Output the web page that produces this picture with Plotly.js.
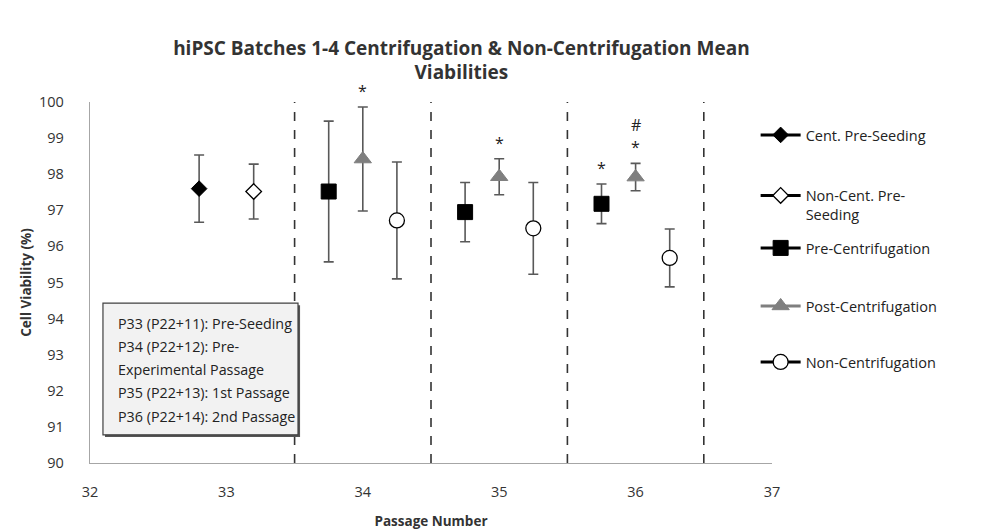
<!DOCTYPE html>
<html>
<head>
<meta charset="utf-8">
<script src="https://cdn.plot.ly/plotly-3.0.1.min.js"></script>
<style>html,body{margin:0;padding:0;background:#fff;}#chart{width:988px;height:532px;}</style>
</head>
<body>
<div id="chart"></div>
<script>
// ---- data ----
var seriesNames = ["Cent. Pre-Seeding", "Non-Cent. Pre-<br>Seeding", "Pre-Centrifugation", "Post-Centrifugation", "Non-Centrifugation"];
var centPreSeedX = [32.8];
var centPreSeedY = [97.6];
var centPreSeedErr = [0.93];
var nonCentPreSeedX = [33.2];
var nonCentPreSeedY = [97.52];
var nonCentPreSeedErr = [0.76];
var preCentX = [33.75, 34.75, 35.75];
var preCentY = [97.52, 96.95, 97.18];
var preCentErr = [1.95, 0.82, 0.55];
var postCentX = [34, 35, 36];
var postCentY = [98.42, 97.93, 97.92];
var postCentErr = [1.44, 0.5, 0.38];
var nonCentX = [34.25, 35.25, 36.25];
var nonCentY = [96.72, 96.5, 95.68];
var nonCentErr = [1.62, 1.27, 0.8];
var xTicks = [32, 33, 34, 35, 36, 37];
var yTicks = [90, 91, 92, 93, 94, 95, 96, 97, 98, 99, 100];
var dividerX = [33.5, 34.5, 35.5, 36.5];
var boxLines = ["P33 (P22+11): Pre-Seeding", "P34 (P22+12): Pre-", "Experimental Passage", "P35 (P22+13): 1st Passage", "P36 (P22+14): 2nd Passage"];
// significance marks placed just above the top of the relevant error bar
var sigX = [34, 35, 35.75, 36, 36];
var sigTopY = [98.42 + 1.44, 97.93 + 0.5, 97.18 + 0.55, 97.92 + 0.38, 97.92 + 0.38];
var sigText = ["*", "*", "*", "*", "#"];
var sigLevel = [0, 0, 0, 0, 1];

// interleave nulls so lines appear in legend but never connect points
function gap(a) { var r = []; a.forEach(function (v, i) { if (i) r.push(null); r.push(v); }); return r; }

var ebColor = '#595959';
var legendIds = ['legend', 'legend2', 'legend3', 'legend4', 'legend5'];
function mk(i, x, y, e, marker, lineColor) {
  return {
    type: 'scatter', mode: 'lines+markers', name: seriesNames[i], legend: legendIds[i],
    x: gap(x), y: gap(y), connectgaps: false,
    line: { color: lineColor, width: 3 },
    marker: marker,
    error_y: { type: 'data', array: gap(e), visible: true, color: ebColor, thickness: 1.6, width: 5 }
  };
}

var traces = [
  mk(0, centPreSeedX, centPreSeedY, centPreSeedErr, { symbol: 'diamond', size: 12, color: '#000', line: { color: '#000', width: 1 } }, '#000'),
  mk(1, nonCentPreSeedX, nonCentPreSeedY, nonCentPreSeedErr, { symbol: 'diamond', size: 12, color: '#fff', line: { color: '#000', width: 1.3 } }, '#000'),
  mk(2, preCentX, preCentY, preCentErr, { symbol: 'square', size: 15, color: '#000', line: { color: '#000', width: 1 } }, '#000'),
  mk(3, postCentX, postCentY, postCentErr, { symbol: 'triangle-up', size: 15, color: '#7f7f7f', line: { color: '#7f7f7f', width: 1 } }, '#7f7f7f'),
  mk(4, nonCentX, nonCentY, nonCentErr, { symbol: 'circle', size: 15, color: '#fff', line: { color: '#000', width: 1.3 } }, '#000')
];

var shapes = dividerX.map(function (x) {
  return { type: 'line', xref: 'x', yref: 'y', x0: x, x1: x, y0: 90, y1: 100.2, line: { color: '#333', width: 1.6, dash: 'dash' }, layer: 'below' };
});
// note box (shadow + box)
shapes.push({ type: 'rect', xref: 'x', yref: 'y', x0: 32.11, x1: 33.54, y0: 90.72, y1: 94.37, line: { width: 0 }, fillcolor: '#555', layer: 'above' });
shapes.push({ type: 'rect', xref: 'x', yref: 'y', x0: 32.095, x1: 33.525, y0: 90.78, y1: 94.43, line: { color: '#404040', width: 1.2 }, fillcolor: '#f2f2f2', layer: 'above' });

var annotations = [];
boxLines.forEach(function (t, i) {
  annotations.push({ xref: 'x', yref: 'y', x: 32.19, y: 94.43, xanchor: 'left', yanchor: 'middle', yshift: -20 - i * 23.3,
    text: t, showarrow: false, align: 'left', font: { family: 'Open Sans, sans-serif', size: 14.3, color: '#222' } });
});
sigX.forEach(function (x, i) {
  annotations.push({ xref: 'x', yref: 'y', x: x, y: sigTopY[i], xanchor: 'center', yanchor: 'bottom', yshift: 3 + sigLevel[i] * 22,
    text: sigText[i], showarrow: false, font: { family: 'Open Sans, sans-serif', size: 16, color: '#222' } });
});

var legendY = [0.9086, 0.7147, 0.5956, 0.4349, 0.2798];
function legendCfg(y) {
  return { x: 0.976, xanchor: 'left', y: y, yanchor: 'middle', bgcolor: 'rgba(0,0,0,0)', borderwidth: 0,
    font: { size: 14.5, color: '#222' }, itemwidth: 40, valign: 'top' };
}

var layout = {
  width: 988, height: 532,
  margin: { l: 90, r: 216, t: 102, b: 69 },
  paper_bgcolor: '#fff', plot_bgcolor: '#fff',
  font: { family: 'Open Sans, sans-serif', color: '#333' },
  title: { text: '<b>hiPSC Batches 1-4 Centrifugation & Non-Centrifugation Mean<br>Viabilities</b>',
    x: 0.467, xanchor: 'center', y: 0.897, yanchor: 'top', font: { size: 19, color: '#333' } },
  xaxis: { range: [32, 37], tickvals: xTicks, ticktext: xTicks.map(String), showgrid: false, zeroline: false,
    showline: true, linecolor: '#a6a6a6', linewidth: 1.3, ticks: 'outside', ticklen: 15, tickcolor: 'rgba(0,0,0,0)',
    tickfont: { size: 14.5, color: '#333' },
    title: { text: '<b>Passage Number</b>', font: { size: 13.5, color: '#333' }, standoff: 16 } },
  yaxis: { range: [90, 100], tickvals: yTicks, ticktext: yTicks.map(String), showgrid: false, zeroline: false,
    showline: true, linecolor: '#a6a6a6', linewidth: 1.3, ticks: 'outside', ticklen: 22, tickcolor: 'rgba(0,0,0,0)',
    tickfont: { size: 14.5, color: '#333' },
    title: { text: '<b>Cell Viability (%)</b>', font: { size: 13.5, color: '#333' }, standoff: 4 } },
  showlegend: true,
  legend: legendCfg(legendY[0]),
  legend2: legendCfg(legendY[1]),
  legend3: legendCfg(legendY[2]),
  legend4: legendCfg(legendY[3]),
  legend5: legendCfg(legendY[4]),
  shapes: shapes,
  annotations: annotations
};

Plotly.newPlot('chart', traces, layout, { displayModeBar: false, staticPlot: true });
</script>
</body>
</html>
